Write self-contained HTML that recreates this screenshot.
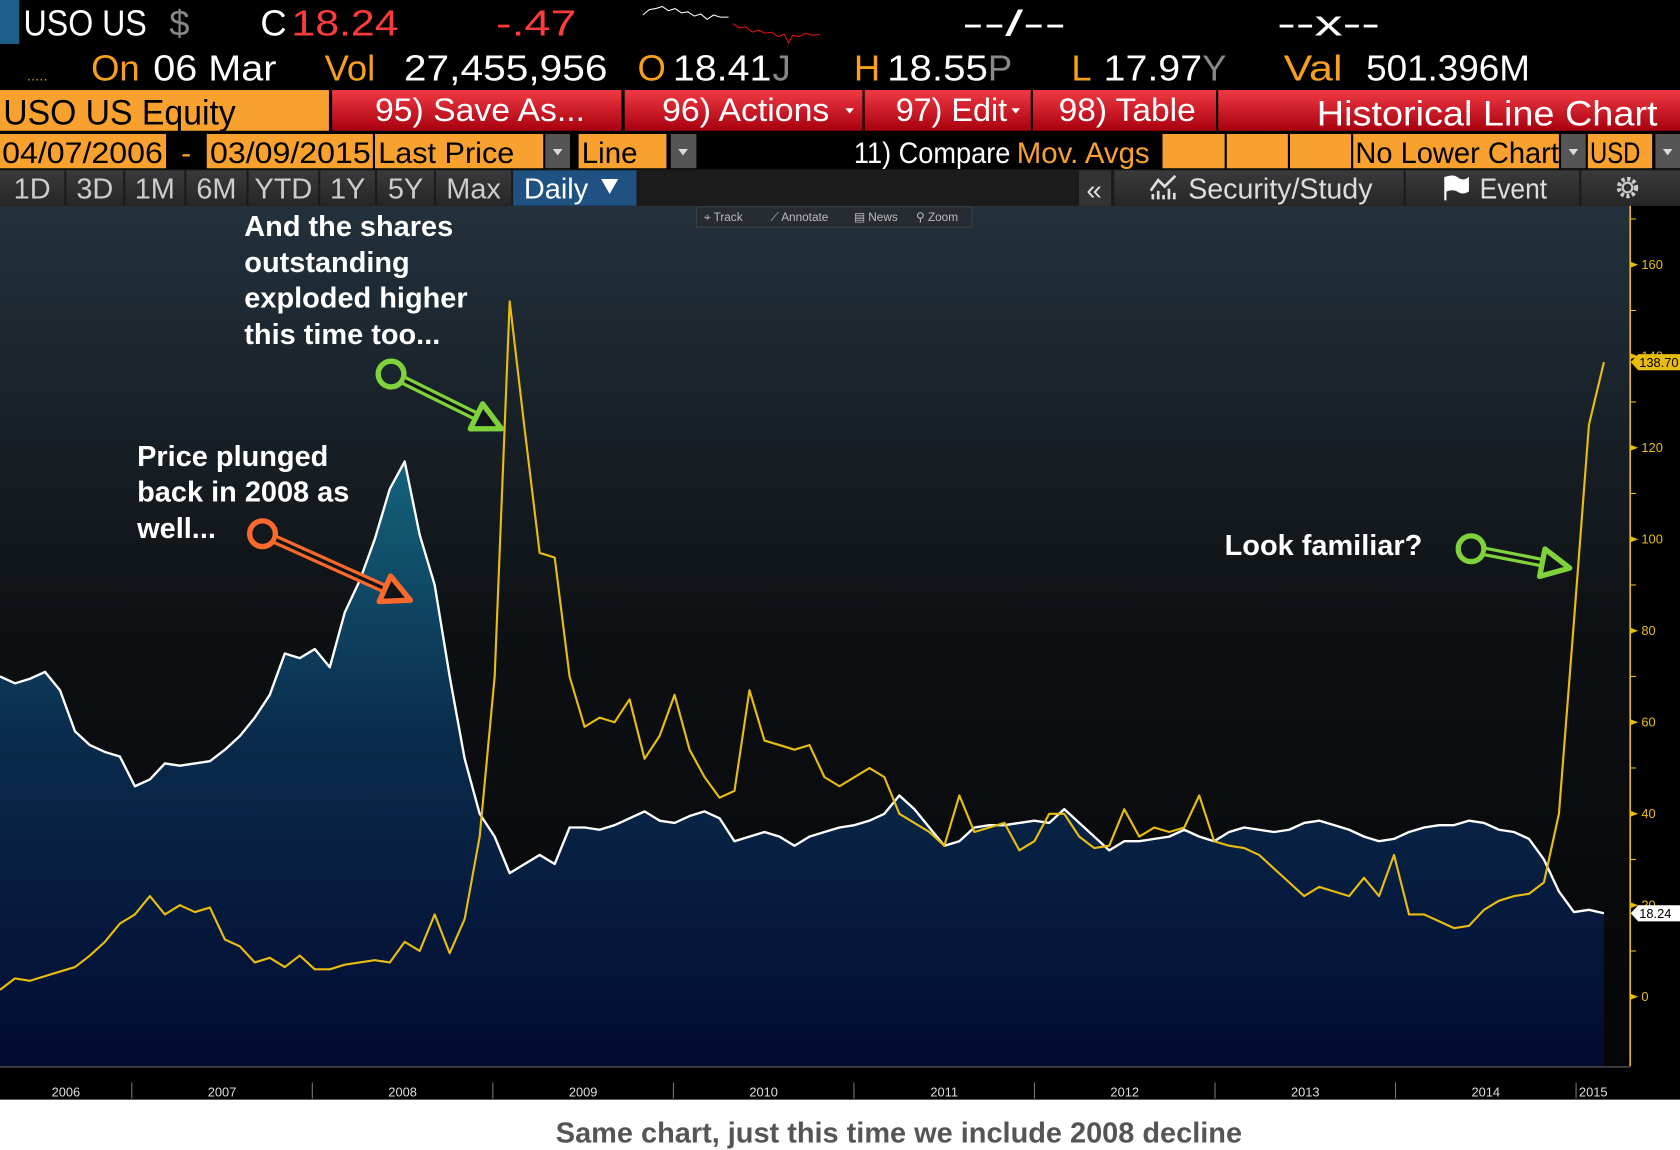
<!DOCTYPE html>
<html><head><meta charset="utf-8"><style>
html,body{margin:0;padding:0;background:#fff;}
svg{display:block;}
.n{font-family:"Liberation Sans Narrow","Liberation Sans",sans-serif;}
.b{font-family:"Liberation Sans",sans-serif;font-weight:bold;}
</style></head><body>
<svg id="root" width="1680" height="1150" viewBox="0 0 1568 1073" preserveAspectRatio="none" xmlns="http://www.w3.org/2000/svg">
<defs>
<linearGradient id="bg" x1="0" y1="192" x2="0" y2="995" gradientUnits="userSpaceOnUse">
<stop offset="0" stop-color="#23313c"/><stop offset="0.5" stop-color="#0d1013"/><stop offset="1" stop-color="#050506"/></linearGradient>
<linearGradient id="area" x1="0" y1="430" x2="0" y2="995" gradientUnits="userSpaceOnUse">
<stop offset="0" stop-color="#14627c"/><stop offset="0.45" stop-color="#0a2c4c"/><stop offset="1" stop-color="#020a30"/></linearGradient>
<linearGradient id="red" x1="0" y1="0" x2="0" y2="1"><stop offset="0" stop-color="#f03a44"/><stop offset="1" stop-color="#a8000e"/></linearGradient>
<linearGradient id="gbtn" x1="0" y1="0" x2="0" y2="1"><stop offset="0" stop-color="#3a3a3a"/><stop offset="1" stop-color="#262626"/></linearGradient>
</defs>
<rect x="0" y="0" width="1568" height="1073" fill="#000"/>
<!-- header row 1 -->
<g>
<rect x="0" y="0" width="18" height="41" fill="#1d5f8a"/>
<text class="n" x="22" y="33" font-size="34" fill="#fff" textLength="115" lengthAdjust="spacingAndGlyphs">USO US</text>
<text class="n" x="158" y="33" font-size="34" fill="#888">$</text>
<text class="n" x="243" y="33" font-size="34" fill="#fff">C</text>
<text class="n" x="272" y="33" font-size="34" fill="#ff3b3b" textLength="100" lengthAdjust="spacingAndGlyphs">18.24</text>
<text class="n" x="463" y="33" font-size="34" fill="#ff3b3b" textLength="75" lengthAdjust="spacingAndGlyphs">-.47</text>
<polyline fill="none" stroke="#fff" stroke-width="1" points="600,14 606,9 612,8 618,6 624,10 630,8 636,12 642,11 648,15 654,13 660,18 666,14 672,16 680,16"/>
<polyline fill="none" stroke="#e01010" stroke-width="1" points="684,22 690,26 696,25 702,30 708,28 714,31 720,30 726,34 732,32 736,40 740,33 746,34 752,31 758,33 765,32"/>
<text class="n" x="898" y="33" font-size="34" fill="#fff" textLength="97" lengthAdjust="spacingAndGlyphs">--/--</text>
<text class="n" x="1192" y="33" font-size="34" fill="#fff" textLength="96" lengthAdjust="spacingAndGlyphs">--x--</text>
</g>
<!-- header row 2 -->
<g>
<text class="n" x="25" y="75" font-size="14" fill="#c98a1e">.....</text>
<text class="n" x="85" y="75" font-size="34" fill="#f7a01e">On</text>
<text class="n" x="143" y="75" font-size="34" fill="#fff" textLength="115" lengthAdjust="spacingAndGlyphs">06 Mar</text>
<text class="n" x="303" y="75" font-size="34" fill="#f7a01e">Vol</text>
<text class="n" x="377" y="75" font-size="34" fill="#fff" textLength="190" lengthAdjust="spacingAndGlyphs">27,455,956</text>
<text class="n" x="595" y="75" font-size="34" fill="#f7a01e">O</text>
<text class="n" x="628" y="75" font-size="34" fill="#fff" textLength="92" lengthAdjust="spacingAndGlyphs">18.41</text>
<text class="n" x="721" y="75" font-size="34" fill="#888">J</text>
<text class="n" x="797" y="75" font-size="34" fill="#f7a01e">H</text>
<text class="n" x="828" y="75" font-size="34" fill="#fff" textLength="94" lengthAdjust="spacingAndGlyphs">18.55</text>
<text class="n" x="922" y="75" font-size="34" fill="#888">P</text>
<text class="n" x="1000" y="75" font-size="34" fill="#f7a01e">L</text>
<text class="n" x="1030" y="75" font-size="34" fill="#fff" textLength="92" lengthAdjust="spacingAndGlyphs">17.97</text>
<text class="n" x="1122" y="75" font-size="34" fill="#888">Y</text>
<text class="n" x="1198" y="75" font-size="34" fill="#f7a01e" textLength="55" lengthAdjust="spacingAndGlyphs">Val</text>
<text class="n" x="1275" y="75" font-size="34" fill="#fff" textLength="153" lengthAdjust="spacingAndGlyphs">501.396M</text>
</g>
<!-- row 3 -->
<g>
<rect x="0" y="84" width="307" height="38" fill="#f9a12e"/>
<text class="n" x="3" y="116" font-size="33" fill="#000" textLength="217" lengthAdjust="spacingAndGlyphs">USO US Equity</text>
<g><rect x="310" y="84" width="270" height="38" fill="url(#red)"/><text class="n" x="350" y="113" font-size="30" fill="#fff" textLength="196" lengthAdjust="spacingAndGlyphs">95) Save As...</text></g>
<g><rect x="583" y="84" width="222" height="38" fill="url(#red)"/><text class="n" x="618" y="113" font-size="30" fill="#fff" textLength="156" lengthAdjust="spacingAndGlyphs">96) Actions</text><path d="M789,101 l8,0 l-4,5z" fill="#fff"/></g>
<g><rect x="807" y="84" width="155" height="38" fill="url(#red)"/><text class="n" x="836" y="113" font-size="30" fill="#fff" textLength="104" lengthAdjust="spacingAndGlyphs">97) Edit</text><path d="M944,101 l8,0 l-4,5z" fill="#fff"/></g>
<g><rect x="964" y="84" width="171" height="38" fill="url(#red)"/><text class="n" x="988" y="113" font-size="30" fill="#fff" textLength="128" lengthAdjust="spacingAndGlyphs">98) Table</text></g>
<g><rect x="1137" y="84" width="431" height="38" fill="url(#red)"/><text class="n" x="1229" y="117" font-size="33" fill="#fff" textLength="318" lengthAdjust="spacingAndGlyphs">Historical Line Chart</text></g>
</g>
<!-- row 4 -->
<g>
<g><rect x="0" y="125" width="155" height="32" fill="#f9a12e"/><text class="n" x="2" y="152" font-size="28" fill="#000" textLength="150" lengthAdjust="spacingAndGlyphs">04/07/2006</text></g>
<text class="n" x="169" y="152" font-size="28" fill="#f9a12e">-</text>
<g><rect x="193" y="125" width="155" height="32" fill="#f9a12e"/><text class="n" x="196" y="152" font-size="28" fill="#000" textLength="150" lengthAdjust="spacingAndGlyphs">03/09/2015</text></g>
<g><rect x="350" y="125" width="157" height="32" fill="#f9a12e"/><text class="n" x="353" y="152" font-size="28" fill="#000" textLength="127" lengthAdjust="spacingAndGlyphs">Last Price</text><rect x="509" y="125" width="23" height="32" fill="#555"/><path d="M516,139 l9,0 l-4.5,6z" fill="#ddd"/></g>
<g><rect x="540" y="125" width="82" height="32" fill="#f9a12e"/><text class="n" x="543" y="152" font-size="28" fill="#000" textLength="52" lengthAdjust="spacingAndGlyphs">Line</text><rect x="626" y="125" width="24" height="32" fill="#555"/><path d="M633,139 l9,0 l-4.5,6z" fill="#ddd"/></g>
<text class="n" x="797" y="152" font-size="28" fill="#fff" textLength="146" lengthAdjust="spacingAndGlyphs">11) Compare</text>
<text class="n" x="949" y="152" font-size="28" fill="#f9a12e" textLength="124" lengthAdjust="spacingAndGlyphs">Mov. Avgs</text>
<rect x="1085" y="125" width="58" height="32" fill="#f9a12e"/>
<rect x="1145" y="125" width="57" height="32" fill="#f9a12e"/>
<rect x="1204" y="125" width="57" height="32" fill="#f9a12e"/>
<g><rect x="1263" y="125" width="192" height="32" fill="#f9a12e"/><text class="n" x="1265" y="152" font-size="28" fill="#000" textLength="190" lengthAdjust="spacingAndGlyphs">No Lower Chart</text><rect x="1457" y="125" width="23" height="32" fill="#555"/><path d="M1464,139 l9,0 l-4.5,6z" fill="#ddd"/></g>
<g><rect x="1482" y="125" width="60" height="32" fill="#f9a12e"/><text class="n" x="1484" y="152" font-size="28" fill="#000" textLength="47" lengthAdjust="spacingAndGlyphs">USD</text><rect x="1545" y="125" width="23" height="32" fill="#555"/><path d="M1552,139 l9,0 l-4.5,6z" fill="#ddd"/></g>
</g>
<!-- row 5 -->
<g>
<rect x="0" y="158" width="1568" height="34" fill="#1b1b1b"/>
<g id="periods"></g>
<g><rect x="479" y="159" width="115" height="33" fill="#1f5283"/><text class="n" x="489" y="185" font-size="27" fill="#fff" textLength="60" lengthAdjust="spacingAndGlyphs">Daily</text><path d="M561,167 l16,0 l-8,14z" fill="#fff"/></g>
<g><rect x="1007" y="159" width="30" height="33" fill="#333"/><text class="n" x="1014" y="186" font-size="26" fill="#ddd">«</text></g>
<g><rect x="1040" y="159" width="270" height="33" fill="url(#gbtn)"/>
<path d="M1076,186 v-5 M1081,186 v-8 M1086,186 v-4 M1091,186 v-10 M1096,186 v-6 M1074,178 l7,-10 l6,6 l10,-10" stroke="#ddd" stroke-width="2.5" fill="none"/>
<text class="n" x="1109" y="185" font-size="27" fill="#ddd" textLength="172" lengthAdjust="spacingAndGlyphs">Security/Study</text></g>
<g><rect x="1312" y="159" width="162" height="33" fill="url(#gbtn)"/><path d="M1349,165 v22 M1349,166 q8,-3 12,1 q5,3 9,0 v11 q-5,3 -9,0 q-5,-3 -12,0z" stroke="#fff" stroke-width="2" fill="#fff"/><text class="n" x="1381" y="185" font-size="27" fill="#ddd" textLength="63" lengthAdjust="spacingAndGlyphs">Event</text></g>
<g><rect x="1476" y="159" width="92" height="33" fill="url(#gbtn)"/><circle cx="1519" cy="175" r="8" fill="none" stroke="#ccc" stroke-width="4" stroke-dasharray="3 2.3"/><circle cx="1519" cy="175" r="4.5" fill="none" stroke="#ccc" stroke-width="2"/></g>
</g>
<!-- chart -->
<g>
<rect x="0" y="192" width="1521" height="803" fill="url(#bg)"/>
<g id="series"></g>
<g>
<rect x="650" y="193" width="257" height="19" fill="#262c31" stroke="#3a4046"/>
<text x="657" y="206" font-family="Liberation Sans,sans-serif" font-size="11" fill="#bbb">⌖ Track</text>
<text x="719" y="206" font-family="Liberation Sans,sans-serif" font-size="11" fill="#bbb">⟋ Annotate</text>
<text x="797" y="206" font-family="Liberation Sans,sans-serif" font-size="11" fill="#bbb">▤ News</text>
<text x="855" y="206" font-family="Liberation Sans,sans-serif" font-size="11" fill="#bbb">⚲ Zoom</text>
</g>
<rect x="0" y="995" width="1568" height="31" fill="#000"/>
<line x1="0" y1="995.5" x2="1521" y2="995.5" stroke="#666" stroke-width="1"/>
<g id="xaxis"></g>
<g id="yaxis"></g>
</g>
<!-- annotations -->
<g>
<text class="b" x="228" y="220" font-size="27" fill="#fff">And the shares</text>
<text class="b" x="228" y="254" font-size="27" fill="#fff">outstanding</text>
<text class="b" x="228" y="287" font-size="27" fill="#fff">exploded higher</text>
<text class="b" x="228" y="321" font-size="27" fill="#fff">this time too...</text>
</g>
<g>
<text class="b" x="128" y="435" font-size="27" fill="#fff">Price plunged</text>
<text class="b" x="128" y="468" font-size="27" fill="#fff">back in 2008 as</text>
<text class="b" x="128" y="502" font-size="27" fill="#fff">well...</text>
</g>
<text class="b" x="1143" y="518" font-size="27" fill="#fff">Look familiar?</text>
<g id="arrows"></g>
<!-- footer -->
<rect x="0" y="1026" width="1568" height="47" fill="#fff"/>
<text class="b" x="839" y="1066" font-size="27" fill="#555" text-anchor="middle">Same chart, just this time we include 2008 decline</text>
</svg>
<script>
// ---- chart data (monthly, Apr 2006 .. Mar 2015) ----
var months = [];
for (var yy = 2006; yy <= 2015; yy++) { for (var mm = 1; mm <= 12; mm++) { if ((yy === 2006 && mm < 4) || (yy === 2015 && mm > 3)) continue; months.push(yy + '-' + (mm < 10 ? '0' + mm : mm)); } }
var priceValues = [70,68.5,69.5,71,67,58,55,53.5,52.5,46,47.5,51,50.5,51,51.5,54,57,61,66,75,74,76,72,84,91,100,111,117,101,90,70,52,40,35,27,29,31,29,37,37,36.5,37.5,39,40.5,38.5,38,39.5,40.5,39,34,35,36,35,33,35,36,37,37.5,38.5,40,44,41,37,33,34,37,37.5,37.5,38,38.5,38,41,38,35,32,34,34,34.5,35,36.5,35,34,36,37,36.5,36,36.5,38,38.5,37.5,36.5,35,34,34.5,36,37,37.5,37.5,38.5,38,36.5,36,34.5,30,23,18.5,19,18.24];
var sharesValues = [1.5,4,3.5,4.5,5.5,6.5,9,12,16,18,22,18,20,18.5,19.5,12.5,11,7.5,8.5,6.5,9,6,6,7,7.5,8,7.5,12,10,18,9.5,17,35,70,152,124,97,96,70,59,61,60,65,52,57,66,54,48,43.5,45,67,56,55,54,55,48,46,48,50,48,40,38,36,33,44,36,37,38,32,34,40,40,35,32.5,33,41,35,37,36,37,44,34,33,32.5,31,28,25,22,24,23,22,26,22,31,18,18,16.5,15,15.5,19,21,22,22.5,25,40,82,125,138.7];
var yTicks = [0,20,40,60,80,100,120,140,160];
var yearLabels = ['2006','2007','2008','2009','2010','2011','2012','2013','2014','2015'];
var yearStarts = [2006.27,2007,2008,2009,2010,2011,2012,2013,2014,2015];
var periodLabels = ['1D','3D','1M','6M','YTD','1Y','5Y','Max'];

var NS = 'http://www.w3.org/2000/svg';
function mk(tag, attrs, parent){ var e = document.createElementNS(NS, tag); for (var k in attrs) e.setAttribute(k, attrs[k]); if (parent) parent.appendChild(e); return e; }
var X0 = 0, X1 = 1497;
function xIdx(i){ return X0 + (X1 - X0) * i / (months.length - 1); }
function yVal(v){ return 930 - v * (930 - 247) / 160; }
function xYear(y){ return 123 + (y - 2007) * 168.5; }

var pg = document.getElementById('periods');
var pBounds = [[0,60],[62,115],[117,172],[174,230],[232,297],[299,350],[352,405],[407,477]];
periodLabels.forEach(function(lbl, i){
  var g = mk('g', {}, pg);
  
  
  var b = pBounds[i];
  mk('rect', {x:b[0], y:159, width:b[1]-b[0], height:33, fill:'url(#gbtn)'}, g);
  var t = mk('text', {x:(b[0]+b[1])/2, y:185, 'font-size':27, fill:'#ccc', 'text-anchor':'middle', 'class':'n'}, g);
  t.textContent = lbl;
});

var sg = document.getElementById('series');
var pts = priceValues.map(function(v,i){ return xIdx(i).toFixed(1) + ',' + yVal(v).toFixed(1); });
var area = mk('path', {d:'M' + xIdx(0) + ',995 L' + pts.join(' L') + ' L' + xIdx(priceValues.length-1) + ',995 Z', fill:'url(#area)'}, sg);


var pl = mk('polyline', {points: pts.join(' '), fill:'none', stroke:'#fff', 'stroke-width':2.2, 'stroke-linejoin':'round'}, sg);


var spts = sharesValues.map(function(v,i){ return xIdx(i).toFixed(1) + ',' + yVal(v).toFixed(1); });
var sl = mk('polyline', {points: spts.join(' '), fill:'none', stroke:'#e8bd10', 'stroke-width':2, 'stroke-linejoin':'round'}, sg);



var xg = document.getElementById('xaxis');
yearLabels.forEach(function(lbl, i){
  var next = i < yearStarts.length - 1 ? yearStarts[i+1] : 2015.19;
  var cx = (xYear(yearStarts[i]) + xYear(next)) / 2;
  if (i > 0) { var sep = mk('line', {x1:xYear(yearStarts[i]), y1:1010, x2:xYear(yearStarts[i]), y2:1025, stroke:'#777', 'stroke-width':1}, xg);
    
     }
  var t = mk('text', {x:cx, y:1023, 'font-size':12, fill:'#ddd', 'text-anchor':'middle', 'font-family':'Liberation Sans,sans-serif'}, xg);
  
  
  t.textContent = lbl;
});

var yg = document.getElementById('yaxis');
var ax = mk('line', {x1:1521.5, y1:192, x2:1521.5, y2:995, stroke:'#e8bd10', 'stroke-width':1.5}, yg);


yTicks.forEach(function(v){
  var y = yVal(v);
  var tk = mk('path', {d:'M1521,' + (y-3) + ' l8,3 l-8,3z', fill:'#e8bd10'}, yg);
  
  
  var mn = mk('line', {x1:1521, y1:yVal(v+10), x2:1527, y2:yVal(v+10), stroke:'#e8bd10', 'stroke-width':1}, yg);
  
  
  var t = mk('text', {x:1532, y:y+4, 'font-size':12, fill:'#e8bd10', 'font-family':'Liberation Sans,sans-serif'}, yg);
  
  
  t.textContent = v;
});
function lastTag(v, bg, name){
  var y = yVal(v);
  var g = mk('g', {}, yg);
  
  
  mk('path', {d:'M1522,' + y + ' l7,-7.5 h39 v15 h-39z', fill:bg}, g);
  var t = mk('text', {x:1530, y:y+4.5, 'font-size':12, fill:'#000', 'font-family':'Liberation Sans,sans-serif'}, g);
  t.textContent = v.toFixed(2);
}
lastTag(sharesValues[sharesValues.length-1], '#e8bd10', 'shares-last-value-tag');
lastTag(priceValues[priceValues.length-1], '#ffffff', 'price-last-value-tag');

var ag = document.getElementById('arrows');
function arrow(cx, cy, tx, ty, col, name){
  var g = mk('g', {}, ag);
  
  
  var dx = tx - cx, dy = ty - cy, L = Math.sqrt(dx*dx+dy*dy), ux = dx/L, uy = dy/L, px = -uy, py = ux;
  var r = 12, hl = 26, hw = 13;
  var sx = cx + ux*r, sy = cy + uy*r, bx = tx - ux*hl, by = ty - uy*hl;
  mk('circle', {cx:cx, cy:cy, r:r, fill:'none', stroke:col, 'stroke-width':5}, g);
  mk('line', {x1:sx, y1:sy, x2:bx, y2:by, stroke:col, 'stroke-width':9}, g);
  mk('line', {x1:sx+ux*2, y1:sy+uy*2, x2:bx, y2:by, stroke:'#101418', 'stroke-width':3}, g);
  mk('path', {d:'M' + tx + ',' + ty + ' L' + (bx+px*hw) + ',' + (by+py*hw) + ' L' + (bx-px*hw) + ',' + (by-py*hw) + 'Z', fill:'#101418', stroke:col, 'stroke-width':5, 'stroke-linejoin':'round'}, g);
}
arrow(365, 349, 468, 400, '#7fd23c', 'shares-arrow');
arrow(245, 498, 383, 560, '#fb6a2c', 'price-arrow');
arrow(1373, 512, 1465, 530, '#7fd23c', 'familiar-arrow');
</script>
</body></html>
